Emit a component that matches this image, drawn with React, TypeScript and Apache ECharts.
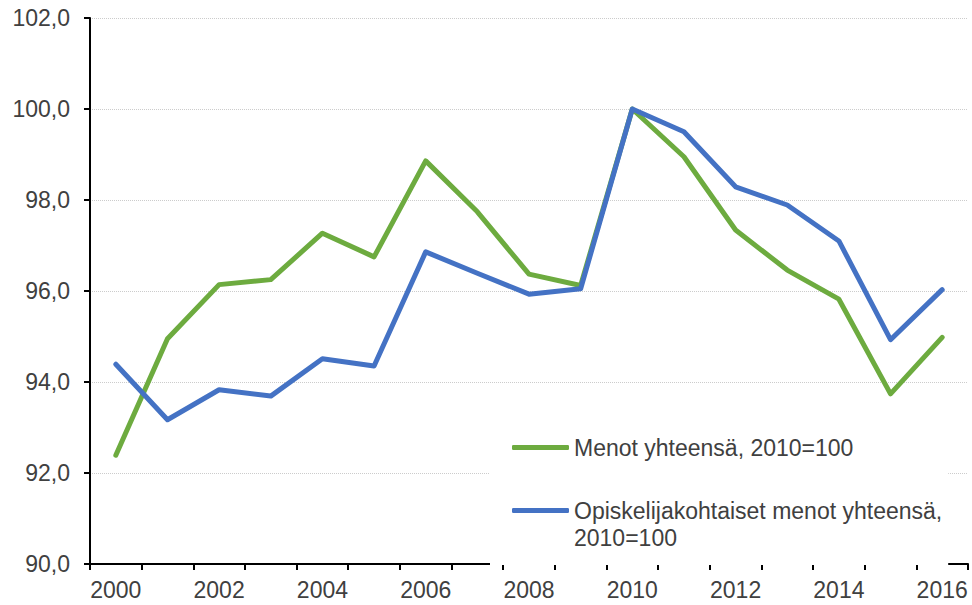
import React, { useEffect, useRef } from "react";
import * as echarts from "echarts";

const years = ["2000","2001","2002","2003","2004","2005","2006","2007","2008","2009","2010","2011","2012","2013","2014","2015","2016"];
const menotName = "Menot yhteensä, 2010=100";
const opiskName = "Opiskelijakohtaiset menot yhteensä,\n2010=100";
const menot = [92.39, 94.95, 96.14, 96.25, 97.27, 96.75, 98.86, 97.74, 96.37, 96.12, 100.0, 98.95, 97.34, 96.46, 95.82, 93.74, 94.98];
const opisk = [94.39, 93.17, 93.83, 93.69, 94.51, 94.35, 96.86, 96.39, 95.93, 96.05, 100.0, 99.5, 98.29, 97.89, 97.1, 94.93, 96.03];

const FONT = "'Liberation Sans', Arial, sans-serif";
const TEXT = "#404040";

export default function App() {
  const ref = useRef<HTMLDivElement>(null);
  useEffect(() => {
    if (!ref.current) return;
    const chart = echarts.init(ref.current, undefined, { renderer: "svg" });
    chart.setOption({
      animation: false,
      backgroundColor: "#fff",
      textStyle: { fontFamily: FONT },
      grid: { left: 90, right: 4, top: 18, bottom: 41, containLabel: false },
      xAxis: {
        type: "category",
        data: years,
        boundaryGap: true,
        axisLine: { show: true, lineStyle: { color: "#000", width: 2 } },
        axisTick: { show: true, interval: 0, length: 6, lineStyle: { color: "#000", width: 2 } },
        axisLabel: { interval: 1, color: TEXT, fontSize: 23, fontFamily: FONT, margin: 14 },
        splitLine: { show: false },
      },
      yAxis: {
        type: "value",
        min: 90,
        max: 102,
        interval: 2,
        axisLine: { show: true, lineStyle: { color: "#000", width: 2 } },
        axisTick: { show: true, length: 6, lineStyle: { color: "#000", width: 2 } },
        axisLabel: {
          color: TEXT,
          fontSize: 23,
          fontFamily: FONT,
          margin: 20,
          formatter: (v: number) => v.toFixed(1).replace(".", ","),
        },
        splitLine: { show: true, lineStyle: { color: "#cccccc", width: 1, type: "dotted" } },
      },
      legend: {
        orient: "vertical",
        left: 490,
        top: 414,
        backgroundColor: "#fff",
        padding: [20, 6, 14, 22],
        itemGap: 9,
        itemWidth: 57,
        itemHeight: 5,
        formatter: (name: string) => (name.indexOf("\n") >= 0 ? "\n" + name : name),
        textStyle: { color: TEXT, fontSize: 23, fontFamily: FONT, lineHeight: 27 },
        data: [
          { name: menotName, icon: "roundRect" },
          { name: opiskName, icon: "roundRect" },
        ],
      },
      series: [
        {
          name: menotName,
          type: "line",
          data: menot,
          symbol: "none",
          color: "#6DAB3F",
          lineStyle: { width: 5, color: "#6DAB3F", cap: "round", join: "round" },
        },
        {
          name: opiskName,
          type: "line",
          data: opisk,
          symbol: "none",
          color: "#4472C4",
          lineStyle: { width: 5, color: "#4472C4", cap: "round", join: "round" },
        },
      ],
    });
    return () => chart.dispose();
  }, []);
  return <div ref={ref} style={{ width: 972, height: 605, position: "absolute", left: 0, top: 0 }} />;
}
